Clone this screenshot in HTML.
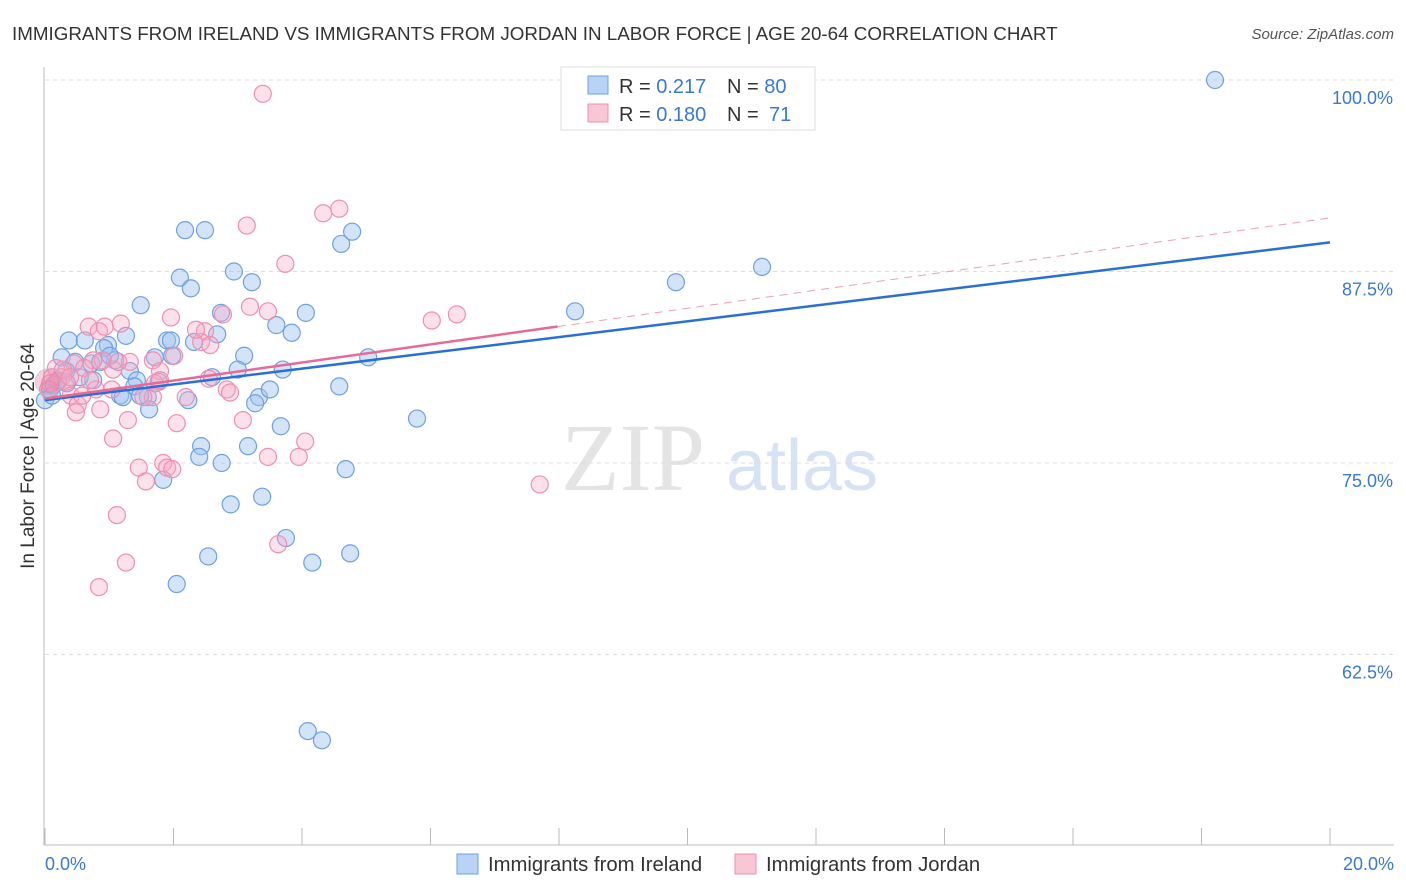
<!DOCTYPE html>
<html><head><meta charset="utf-8">
<style>
body{margin:0;background:#fff;font-family:"Liberation Sans",sans-serif;}
svg{display:block}
</style></head>
<body>
<svg id="chart" width="1406" height="892">
<text x="12" y="40" font-size="18.8" fill="#333">IMMIGRANTS FROM IRELAND VS IMMIGRANTS FROM JORDAN IN LABOR FORCE | AGE 20-64 CORRELATION CHART</text>
<text x="1394" y="39" font-size="15" fill="#555" text-anchor="end" font-style="italic">Source: ZipAtlas.com</text>
<text x="0" y="0" transform="translate(34,456) rotate(-90)" font-size="19" fill="#333" text-anchor="middle">In Labor Force | Age 20-64</text>
<g><text x="633" y="490" font-size="96" fill="#e4e4e4" font-family="Liberation Serif,serif" text-anchor="middle">ZIP</text><text x="802" y="490" font-size="72" fill="#d6e3f5" text-anchor="middle">atlas</text></g>
<g id="grid"></g><g id="axes"></g><g id="pts"></g><g id="lines"></g>
<g>
<rect x="561" y="67" width="254" height="63" fill="#fff" stroke="#ddd"/>
<rect x="588" y="76" width="20" height="18" fill="#b8d3f5" stroke="#6fa0e0"/>
<rect x="588" y="104" width="20" height="18" fill="#f9c6d6" stroke="#ee8fb0"/>
<text x="619" y="93" font-size="20" fill="#333">R = <tspan fill="#3a78d4">0.217</tspan><tspan x="727">N = </tspan><tspan fill="#3a78d4">80</tspan></text>
<text x="619" y="121" font-size="20" fill="#333">R = <tspan fill="#3a78d4">0.180</tspan><tspan x="727">N = </tspan><tspan fill="#3a78d4" x="769">71</tspan></text>
</g>
<g>
<rect x="457" y="854" width="21" height="20" fill="#b8d3f5" stroke="#6fa0e0"/>
<text x="488" y="871" font-size="20.3" fill="#333">Immigrants from Ireland</text>
<rect x="735" y="854" width="21" height="20" fill="#f9c6d6" stroke="#ee8fb0"/>
<text x="766" y="871" font-size="20.3" fill="#333">Immigrants from Jordan</text>
</g>
</svg>
<script>
const blueX=[18.21,2.18,2.49,4.61,4.78,2.10,2.94,2.27,3.22,11.16,9.82,8.25,1.49,4.06,3.60,3.84,2.74,2.68,0.37,0.62,0.98,0.92,1.26,1.90,1.96,2.32,1.71,1.98,3.10,3.00,3.70,2.60,0.26,0.47,0.72,1.09,1.32,0.75,1.43,1.77,1.39,1.17,1.21,1.60,1.62,2.23,3.33,3.27,3.50,4.58,5.03,5.79,3.67,2.43,2.40,3.16,2.75,4.68,1.84,3.38,2.89,3.75,2.54,4.75,4.16,2.05,4.09,4.31,0.08,0.14,0.20,0.33,0.54,0.86,0.0,0.11,0.34,1.48,1.01];
const blueY=[100.0,90.2,90.2,89.3,90.1,87.1,87.5,86.4,86.8,87.8,86.8,84.9,85.3,84.8,84.0,83.5,84.8,83.4,83.0,83.0,82.7,82.5,83.3,83.0,83.0,82.9,81.9,82.0,82.0,81.1,81.1,80.6,81.9,81.6,81.5,81.7,81.0,80.4,80.4,80.3,80.0,79.4,79.3,79.3,78.5,79.1,79.3,78.9,79.8,80.0,81.9,77.9,77.4,76.1,75.4,76.1,75.0,74.6,73.9,72.8,72.3,70.1,68.9,69.1,68.5,67.1,57.5,56.9,79.8,80.1,80.4,81.0,80.6,81.6,79.1,79.4,80.2,79.4,82.0];
const pinkX=[3.39,4.58,4.33,3.14,3.74,1.96,3.19,3.47,2.77,2.49,2.43,2.01,0.68,0.84,0.93,1.18,1.32,1.68,1.79,1.06,0.90,0.75,0.45,0.17,0.26,0.33,0.08,2.55,2.83,2.19,1.68,1.53,1.04,0.79,0.40,0.51,0.48,0.86,1.29,2.05,1.06,3.08,4.05,3.95,3.47,1.84,1.46,1.90,1.98,1.57,1.12,1.26,0.84,3.63,6.02,6.41,7.70,0.20,0.11,0.05,0.61,1.14,1.71,0.58,2.35,2.57,0.28,0.39,1.79,0.70,2.88];
const pinkY=[99.1,91.6,91.3,90.5,88.0,84.5,85.2,84.9,84.7,83.6,82.9,82.0,83.9,83.6,83.9,84.1,81.6,81.7,81.0,81.1,81.7,81.7,81.5,81.2,80.6,80.3,80.2,80.5,79.8,79.3,79.3,79.3,79.8,79.8,79.4,78.8,78.3,78.5,77.8,77.6,76.6,77.8,76.4,75.4,75.4,75.0,74.7,74.7,74.6,73.8,71.6,68.5,66.9,69.7,84.3,84.7,73.6,80.3,80.6,79.8,81.2,81.6,80.2,79.4,83.7,82.7,81.1,80.6,80.4,80.4,79.6];
const blueTrend=[79.1,89.4];
const pinkTrend=[79.2,91.0];
const pinkSolidEnd=7.98;
const yTicks=[100,87.5,75,62.5];
const xTickLabels=["0.0%","20.0%"];
const NS="http://www.w3.org/2000/svg";
const x0=45,x1=1330,yBase=80,yPer=15.32;
function xs(v){return x0+(v/20)*(x1-x0);}
function ys(v){return yBase+(100-v)*yPer;}
function mk(tag,attrs,parent){const e=document.createElementNS(NS,tag);for(const k in attrs)e.setAttribute(k,attrs[k]);parent.appendChild(e);return e;}
const grid=document.getElementById('grid'),axes=document.getElementById('axes'),pts=document.getElementById('pts'),lines=document.getElementById('lines');
yTicks.forEach(t=>{
  const l=mk('line',{x1:45,x2:1394,y1:ys(t),y2:ys(t),stroke:'#ddd','stroke-dasharray':'4 4'},grid);
  
  
  const tx=mk('text',{x:1393,y:ys(t)+24,'font-size':18,fill:'#3a78d4','text-anchor':'end'},axes);
  tx.textContent=t.toFixed(1)+'%';
  
  
});
const ax=mk('line',{x1:44,x2:44,y1:67,y2:845,stroke:'#bbb'},axes);


const bx=mk('line',{x1:44,x2:1394,y1:845,y2:845,stroke:'#bbb'},axes);


for(let i=0;i<=10;i++){
  const tk=mk('line',{x1:xs(i*2),x2:xs(i*2),y1:828,y2:845,stroke:'#bbb'},axes);
  
  
}
[[0,'start',45],[20,'end',1394]].forEach((a,i)=>{
  const t=mk('text',{x:a[2],y:870,'font-size':18,fill:'#3a78d4','text-anchor':a[1]},axes);
  t.textContent=xTickLabels[i];
  
  
});
function dots(X,Y,fill,stroke,name){
  X.forEach((v,i)=>{
    const c=mk('circle',{cx:xs(v),cy:ys(Y[i]),r:8.5,fill:fill,stroke:stroke,'stroke-width':1.2},pts);
    
    
  });
}
dots(blueX,blueY,'rgba(160,196,240,0.45)','#6fa0e0','ireland-point');
dots(pinkX,pinkY,'rgba(246,170,196,0.35)','#ee8fb0','jordan-point');
const big=mk('circle',{cx:xs(0.05),cy:ys(80.3),r:13,fill:'rgba(230,120,160,0.35)',stroke:'rgba(160,196,240,0.6)'},pts);


function pyT(tr,x){return tr[0]+(tr[1]-tr[0])*x/20;}
const pd=mk('line',{x1:xs(pinkSolidEnd),y1:ys(pyT(pinkTrend,pinkSolidEnd)),x2:xs(20),y2:ys(pinkTrend[1]),stroke:'#e8a0b8','stroke-width':1,'stroke-dasharray':'8 6'},lines);


const bl=mk('line',{x1:xs(0),y1:ys(blueTrend[0]),x2:xs(20),y2:ys(blueTrend[1]),stroke:'#2a6fd6','stroke-width':2.5},lines);


const pl=mk('line',{x1:xs(0),y1:ys(pinkTrend[0]),x2:xs(pinkSolidEnd),y2:ys(pyT(pinkTrend,pinkSolidEnd)),stroke:'#e86a94','stroke-width':2.5},lines);


</script>
</body></html>
